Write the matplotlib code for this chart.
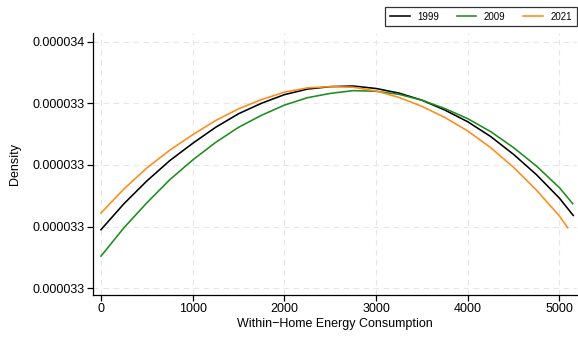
import matplotlib
matplotlib.use("Agg")
import matplotlib.pyplot as plt
from matplotlib.ticker import FixedLocator, FixedFormatter

plt.rcParams['font.family'] = ['Liberation Sans', 'DejaVu Sans']

# Energy consumption grid (x) for each series
x_1999 = [0, 250, 500, 750, 1000, 1250, 1500, 1750, 2000, 2250, 2500, 2750,
          3000, 3250, 3500, 3750, 4000, 4250, 4500, 4750, 5000, 5150]
x_2009 = [0, 250, 500, 750, 1000, 1250, 1500, 1750, 2000, 2250, 2500, 2750,
          3000, 3250, 3500, 3750, 4000, 4250, 4500, 4750, 5000, 5145]
x_2021 = [0, 250, 500, 750, 1000, 1250, 1500, 1750, 2000, 2250, 2500, 2750,
          3000, 3250, 3500, 3750, 4000, 4250, 4500, 4750, 5000, 5090]

# Density values (x 1e-5)
d_1999 = [3.2990, 3.3074, 3.3148, 3.3214, 3.3270, 3.3322, 3.3366, 3.3400,
          3.3428, 3.3446, 3.3454, 3.3456, 3.3448, 3.3433, 3.3410, 3.3378,
          3.3340, 3.3292, 3.3234, 3.3168, 3.3092, 3.3036]
d_2009 = [3.2904, 3.2996, 3.3077, 3.3152, 3.3216, 3.3273, 3.3322, 3.3361,
          3.3394, 3.3418, 3.3432, 3.3441, 3.3439, 3.3429, 3.3410, 3.3383,
          3.3350, 3.3308, 3.3256, 3.3196, 3.3126, 3.3074]
d_2021 = [3.3044, 3.3122, 3.3190, 3.3248, 3.3298, 3.3344, 3.3382, 3.3412,
          3.3436, 3.3450, 3.3454, 3.3452, 3.3440, 3.3419, 3.3390, 3.3354,
          3.3310, 3.3256, 3.3192, 3.3118, 3.3034, 3.2996]

series_labels = ["1999", "2009", "2021"]
series_colors = ["#000000", "#1e8c1e", "#ff8c1a"]

x_ticks = [0, 1000, 2000, 3000, 4000, 5000]
y_ticks = [3.28e-5, 3.30e-5, 3.32e-5, 3.34e-5, 3.36e-5]
y_tick_labels = ["0.000033", "0.000033", "0.000033", "0.000033", "0.000034"]

fig = plt.figure(figsize=(5.78, 3.38), dpi=100)
ax = fig.add_axes([93 / 578, 1 - 295 / 338, (577 - 93) / 578, (295 - 33) / 338])

for xs, ds, lab, col in zip([x_1999, x_2009, x_2021], [d_1999, d_2009, d_2021],
                            series_labels, series_colors):
    ax.plot(xs, [v * 1e-5 for v in ds], color=col, lw=1.15, label=lab)

ax.set_xlim(-87, 5191)
ax.set_ylim(3.2778e-5, 3.3628e-5)
ax.xaxis.set_major_locator(FixedLocator(x_ticks))
ax.yaxis.set_major_locator(FixedLocator(y_ticks))
ax.yaxis.set_major_formatter(FixedFormatter(y_tick_labels))

ax.grid(True, color="#e6e6e6", linestyle=(0, (5, 4)), lw=0.8)
ax.set_axisbelow(True)
for s in ["top", "right"]:
    ax.spines[s].set_visible(False)
for s in ["left", "bottom"]:
    ax.spines[s].set_linewidth(0.9)
ax.tick_params(axis="both", labelsize=9, length=4, width=0.9, pad=2, colors="black")

ax.set_xlabel("Within\u2212Home Energy Consumption", fontsize=9, labelpad=2)
ax.set_ylabel("Density", fontsize=9, labelpad=8)

leg = ax.legend(loc="center", bbox_to_anchor=(481 / 578, 1 - 16.5 / 338),
                bbox_transform=fig.transFigure, ncol=3, fontsize=7,
                frameon=True, fancybox=False, handlelength=2.0,
                handletextpad=0.8, columnspacing=1.8, borderpad=0.5)
leg.get_frame().set_edgecolor("black")
leg.get_frame().set_linewidth(0.9)

fig.savefig("out.png", dpi=100)
